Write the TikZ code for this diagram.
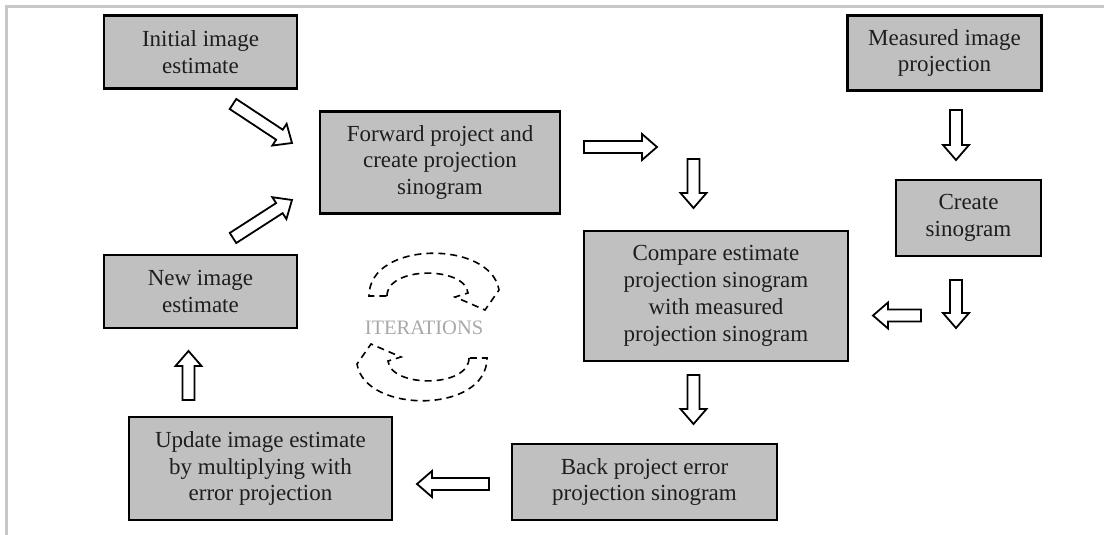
\documentclass[tikz,border=0pt]{standalone}
\usepackage{fontspec}
\setmainfont{Liberation Serif}
\usetikzlibrary{calc}
\definecolor{boxgray}{HTML}{C0C0C0}
\definecolor{framegray}{HTML}{C8C8C8}
\definecolor{txtcol}{HTML}{1E1E1E}
\definecolor{itergray}{HTML}{A8A8A8}
\tikzset{
  procbox/.style={draw=black, fill=boxgray, line width=2.4pt, align=center,
    text=txtcol, inner sep=0pt, font=\fontsize{23}{26.8}\selectfont},
  harrow/.style={draw=black, fill=white, line width=1.8pt, line join=miter},
  dasharrow/.style={draw=black, line width=1.6pt, dash pattern=on 7pt off 5pt},
  framestyle/.style={draw=framegray, line width=3pt}
}
\newcommand\hollowarrow[2]{%
  \pgfpointdiff{\pgfpointanchor{#1}{center}}{\pgfpointanchor{#2}{center}}%
  \pgfgetlastxy\hdx\hdy
  \pgfmathsetmacro\hang{atan2(\hdy,\hdx)}%
  \pgfmathsetmacro\hlen{veclen(\hdx,\hdy)}%
  \begin{scope}[shift={(#1)}, rotate=\hang, x=1pt, y=1pt]
    \draw[harrow] (0,-6) -- ({\hlen-15},-6) -- ({\hlen-15},-13) -- (\hlen,0)
      -- ({\hlen-15},13) -- ({\hlen-15},6) -- (0,6) -- cycle;
  \end{scope}}
\begin{document}
\begin{tikzpicture}[x=1pt,y=-1pt]
\useasboundingbox (0,0) rectangle (1104,535);
% frame lines
\draw[framestyle] (6.5,535) -- (6.5,6.5) -- (1104,6.5);

% boxes
\node[procbox, minimum width=193, minimum height=73] (init) at (200.5,52) {Initial image\\estimate};
\node[procbox, minimum width=194, minimum height=75] (meas) at (944.5,53) {Measured image\\projection};
\node[procbox, minimum width=240, minimum height=102] (fwd) at (440,162.5) {Forward project and\\create projection\\sinogram};
\node[procbox, minimum width=145, minimum height=76] (create) at (968.5,218) {Create\\sinogram};
\node[procbox, minimum width=264, minimum height=130] (comp) at (716,296) {Compare estimate\\projection sinogram\\with measured\\projection sinogram};
\node[procbox, minimum width=193, minimum height=73] (new) at (200.5,291.5) {New image\\estimate};
\node[procbox, minimum width=263, minimum height=103] (upd) at (260.5,468.5) {Update image estimate\\by multiplying with\\error projection};
\node[procbox, minimum width=265, minimum height=76] (back) at (644.5,482) {Back project error\\projection sinogram};

% arrow end points
\coordinate (a1s) at (233,104);  \coordinate (a1e) at (292,143);
\coordinate (a2s) at (233,238);  \coordinate (a2e) at (292,200);
\coordinate (a3s) at (584,147);  \coordinate (a3e) at (657,147);
\coordinate (a4s) at (693.5,159);  \coordinate (a4e) at (693.5,208);
\coordinate (a5s) at (956,110);  \coordinate (a5e) at (956,160);
\coordinate (a6s) at (956,280);  \coordinate (a6e) at (956,328);
\coordinate (a7s) at (921,315.5);  \coordinate (a7e) at (873,315.5);
\coordinate (a8s) at (693.5,375);  \coordinate (a8e) at (693.5,424);
\coordinate (a9s) at (489,484);  \coordinate (a9e) at (417,484);
\coordinate (a10s) at (188.5,400); \coordinate (a10e) at (188.5,351);

\hollowarrow{a1s}{a1e}
\hollowarrow{a2s}{a2e}
\hollowarrow{a3s}{a3e}
\hollowarrow{a4s}{a4e}
\hollowarrow{a5s}{a5e}
\hollowarrow{a6s}{a6e}
\hollowarrow{a7s}{a7e}
\hollowarrow{a8s}{a8e}
\hollowarrow{a9s}{a9e}
\hollowarrow{a10s}{a10e}

% iterations
\node[text=itergray, font=\fontsize{20.5}{24}\selectfont, inner sep=0pt] (iter) at (424,328) {ITERATIONS};
\draw[dasharrow] (387,296) .. controls (387,266) and (465,266) .. (468,293)
  -- (455,297) -- (485,310) -- (499,290)
  .. controls (491,240) and (369,240) .. (369,296) -- cycle;
\begin{scope}[rotate around={180:(428,327)}]
\draw[dasharrow] (387,296) .. controls (387,266) and (465,266) .. (468,293)
  -- (455,297) -- (485,310) -- (499,290)
  .. controls (491,240) and (369,240) .. (369,296) -- cycle;
\end{scope}
\end{tikzpicture}
\end{document}
